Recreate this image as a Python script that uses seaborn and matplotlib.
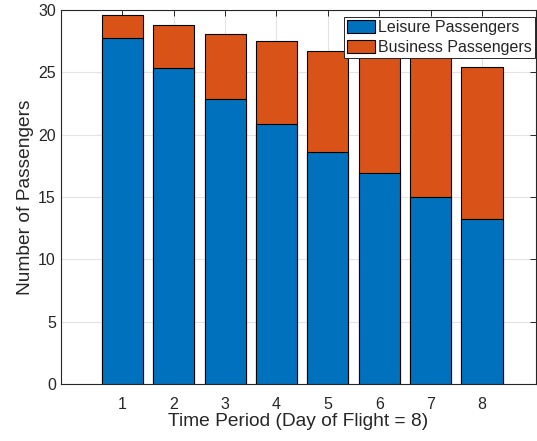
import numpy as np
import pandas as pd
import seaborn as sns
import matplotlib.pyplot as plt

## Data
periods = [1, 2, 3, 4, 5, 6, 7, 8]
leisure = [27.77, 25.34, 22.91, 20.83, 18.63, 16.90, 15.02, 13.21]
total = [29.60, 28.79, 28.07, 27.53, 26.70, 26.45, 26.30, 25.45]
business = [t - l for t, l in zip(total, leisure)]

df = pd.DataFrame({'period': periods, 'leisure': leisure,
                   'business': business, 'total': total})

sns.set_style('white')
plt.rcParams['font.family'] = ['Liberation Sans', 'DejaVu Sans']

blue = '#0072BD'
orange = '#D95319'
axcol = '#262626'

fig = plt.figure(figsize=(5.37, 4.41), dpi=100)
ax = fig.add_axes([0.113, 0.129, 0.885, 0.848])

# stacked: draw totals (business on top) then leisure over it
sns.barplot(data=df, x='period', y='total', native_scale=True, width=0.8,
            color=orange, saturation=1, edgecolor='black', linewidth=0.8,
            label='Business Passengers', ax=ax, zorder=3)
sns.barplot(data=df, x='period', y='leisure', native_scale=True, width=0.8,
            color=blue, saturation=1, edgecolor='black', linewidth=0.8,
            label='Leisure Passengers', ax=ax, zorder=3)

ax.set_xlim(-0.2, 9.05)
ax.set_ylim(0, 30)
ax.set_xticks(periods)
ax.set_yticks(np.arange(0, 31, 5))
ax.grid(True, color='#e3e3e3', linewidth=0.8, zorder=0)
ax.set_axisbelow(True)

for s in ax.spines.values():
    s.set_color(axcol)
    s.set_linewidth(0.8)
ax.tick_params(axis='both', direction='in', length=4, width=0.7,
               colors=axcol, labelsize=11.5, top=True, right=True)
ax.tick_params(axis='x', pad=9)

ax.set_xlabel('Time Period (Day of Flight = 8)', fontsize=13.8, color=axcol, labelpad=1)
ax.set_ylabel('Number of Passengers', fontsize=13.8, color=axcol, labelpad=3)

handles, labels = ax.get_legend_handles_labels()
order = [labels.index('Leisure Passengers'), labels.index('Business Passengers')]
leg = ax.legend([handles[i] for i in order], [labels[i] for i in order],
                loc='upper right', bbox_to_anchor=(0.998, 0.982), borderaxespad=0,
                fontsize=11.5, frameon=True, fancybox=False,
                edgecolor=axcol, framealpha=1, borderpad=0.2,
                handlelength=1.75, handleheight=0.85, handletextpad=0.2,
                labelspacing=0.3)
leg.get_frame().set_linewidth(0.7)
leg.set_zorder(5)

fig.savefig('out.png', dpi=100)
